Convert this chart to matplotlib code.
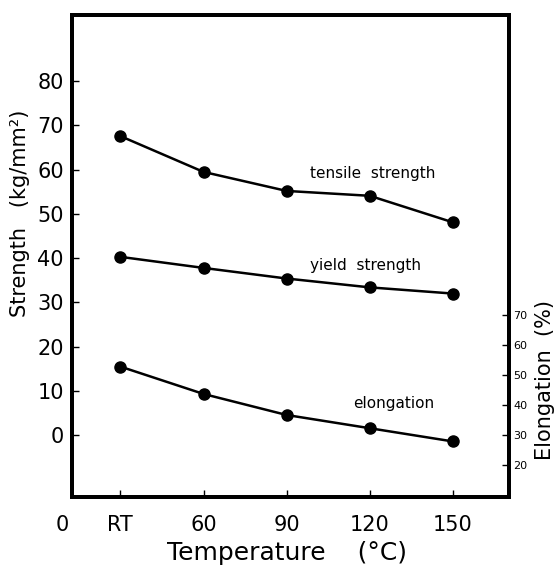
import matplotlib
matplotlib.use("Agg")
import matplotlib.pyplot as plt

temps = [30, 60, 90, 120, 150]
temp_labels = ["RT", "60", "90", "120", "150"]
tensile = [67.6, 59.5, 55.2, 54.1, 48.1]
yield_s = [40.3, 37.8, 35.4, 33.4, 32.0]
elong = [52.7, 43.6, 36.6, 32.2, 27.8]
strength_ticks = [0, 10, 20, 30, 40, 50, 60, 70, 80]
elong_ticks = [20, 30, 40, 50, 60, 70]

plt.rcParams['font.family'] = ['DejaVu Sans']

fig = plt.figure(figsize=(5.55, 5.72), dpi=100)
ax = fig.add_axes([0.130, 0.131, 0.787, 0.843])
ax2 = ax.twinx()

ax.plot(temps, tensile, '-o', color='black', lw=1.8, ms=8)
ax.plot(temps, yield_s, '-o', color='black', lw=1.8, ms=8)
ax2.plot(temps, elong, '-o', color='black', lw=1.8, ms=8)

ax.set_xlim(12.6, 170.2)
ax.set_ylim(-14, 95)
ax2.set_ylim(9.3, 169.7)

ax.set_xticks(temps)
ax.set_xticklabels(temp_labels)
ax.set_yticks(strength_ticks)
ax2.set_yticks(elong_ticks)

ax.tick_params(axis='x', direction='in', length=5, width=1, pad=13, labelsize=15)
ax.tick_params(axis='y', direction='in', length=5, width=1, pad=6, labelsize=15)
ax2.tick_params(axis='y', direction='in', length=5, width=1, pad=3, labelsize=8)

for a in (ax, ax2):
    for s in a.spines.values():
        s.set_linewidth(2.8)

ax.text(98.5, 59.2, "tensile  strength", fontsize=11, ha='left', va='center')
ax.text(98.5, 38.4, "yield  strength", fontsize=11, ha='left', va='center')
ax.text(114, 7.2, "elongation", fontsize=11, ha='left', va='center')

fig.text(20/555, 1 - 213/572, "Strength   (kg/mm²)", rotation=90, fontsize=15,
         ha='center', va='center')
fig.text(545/555, 1 - 380/572, "Elongation  (%)", rotation=90, fontsize=15,
         ha='center', va='center')
fig.text(287/555, 1 - 553/572, "Temperature    (°C)", fontsize=18,
         ha='center', va='center')
fig.text(62/555, 1 - 525/572, "0", fontsize=15, ha='center', va='center')

fig.savefig("out.png", dpi=100)
